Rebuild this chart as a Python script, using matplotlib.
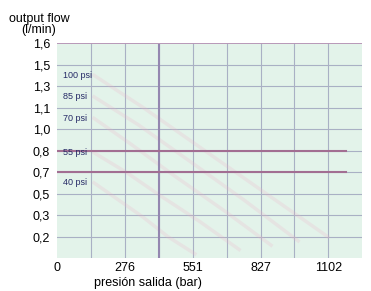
import numpy as np
import matplotlib.pyplot as plt

plt.rcParams['font.family'] = ['Liberation Sans', 'DejaVu Sans']

# x axis: pressure (bar), grid every 137.8
x_grid = [0, 138, 276, 414, 551, 689, 827, 965, 1102, 1240]
x_ticks = [0, 276, 551, 827, 1102]
x_labels = ["0", "276", "551", "827", "1102"]

# y axis: flow labels on equally spaced rows
y_labels = ["0,2", "0,3", "0,5", "0,7", "0,8", "1,0", "1,1", "1,3", "1,5", "1,6"]
y_pos = list(range(1, 11))

# psi curves (very faint in the scan, read roughly)
psi_names = ["100 psi", "85 psi", "70 psi", "55 psi", "40 psi"]
psi_label_y = [8.5, 7.5, 6.5, 4.9, 3.5]
curve_x = [
    [150, 350, 600, 850, 1100],
    [150, 330, 540, 760, 980],
    [150, 300, 480, 680, 870],
    [150, 280, 420, 580, 740],
    [150, 250, 350, 450, 560],
]
curve_y = [
    [8.5, 7.0, 5.0, 3.0, 1.0],
    [7.5, 6.2, 4.5, 2.7, 0.8],
    [6.5, 5.3, 3.8, 2.2, 0.6],
    [4.9, 4.0, 2.9, 1.7, 0.4],
    [3.5, 2.7, 1.9, 1.0, 0.2],
]

fig = plt.figure(figsize=(3.71, 2.91), dpi=100)
ax = fig.add_axes([0.154, 0.113, 0.822, 0.739])
ax.set_facecolor("#e3f3ea")
ax.set_xlim(0, 1240)
ax.set_ylim(0, 10)

for gx in x_grid[1:-1]:
    ax.axvline(gx, color="#a9b0c4", lw=0.8, zorder=1)
ax.axvline(414, color="#9487b0", lw=1.5, zorder=2)
for gy in y_pos[:-1]:
    ax.axhline(gy, color="#a9b0c4", lw=0.8, zorder=1)
ax.axhline(10, color="#b898b8", lw=1.4, zorder=2)

for cx, cy in zip(curve_x, curve_y):
    ax.plot(cx, cy, color="#eeb0c8", lw=2.5, alpha=0.22, zorder=1.5)

# highlighted rows 0,8 and 0,7
ax.plot([0, 1175], [5, 5], color="#a26e92", lw=1.5, zorder=3)
ax.plot([0, 1175], [4, 4], color="#a26e92", lw=1.5, zorder=3)

for name, ly in zip(psi_names, psi_label_y):
    ax.text(25, ly, name, fontsize=6.5, color="#262a66", va="center", ha="left", zorder=4)

ax.set_xticks(x_ticks)
ax.set_xticklabels(x_labels, fontsize=9)
ax.set_yticks(y_pos)
ax.set_yticklabels(y_labels, fontsize=9)
ax.tick_params(axis="y", length=0, pad=5)
ax.tick_params(axis="x", length=0, pad=3)
for s in ax.spines.values():
    s.set_visible(False)

fig.text(0.40, 0.006, "presión salida (bar)", fontsize=9, ha="center", va="bottom")
fig.text(0.105, 0.878, "output flow\n(l/min)", fontsize=9, ha="center", va="bottom",
         linespacing=0.8)

fig.savefig("out.png", dpi=100)
